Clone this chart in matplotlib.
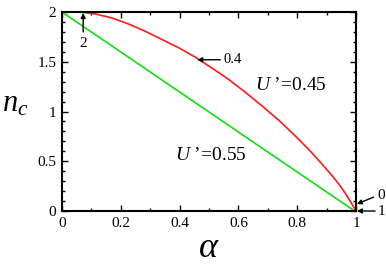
import matplotlib
matplotlib.use("Agg")
import matplotlib.pyplot as plt
from matplotlib.ticker import MultipleLocator

plt.rcParams['font.family'] = ['Liberation Serif', 'DejaVu Serif']
plt.rcParams['mathtext.fontset'] = 'custom'
plt.rcParams['mathtext.rm'] = 'Liberation Serif'
plt.rcParams['mathtext.it'] = 'Liberation Serif:italic'

# U'=0.45 boundary (red)
alpha_red = [0.0, 0.0625, 0.114, 0.17, 0.227, 0.284, 0.341, 0.40, 0.4545, 0.51, 0.568,
             0.625, 0.682, 0.74, 0.795, 0.845, 0.886, 0.92, 0.943, 0.963, 0.977, 0.988,
             0.994, 0.998]
nc_red = [2.0, 2.0, 1.98, 1.94, 1.879, 1.805, 1.722, 1.636, 1.544, 1.437, 1.320,
          1.19, 1.052, 0.905, 0.750, 0.60, 0.466, 0.35, 0.265, 0.18, 0.114, 0.06,
          0.030, 0.0]
# small red piece along the bottom
alpha_red_b = [0.983, 1.0]
nc_red_b = [0.0, 0.0]
# U'=0.55 boundary (green)
alpha_green = [0.0, 0.995]
nc_green = [2.0, 0.0]

fig = plt.figure(figsize=(3.86, 2.73), dpi=100)
ax = fig.add_axes([0.1606, 0.2271, 0.7617, 0.7289])

ax.plot(alpha_red, nc_red, color='#ff1a1a', lw=1.2, clip_on=False)
ax.plot(alpha_red_b, nc_red_b, color='#ff1a1a', lw=1.2, clip_on=False)
ax.plot(alpha_green, nc_green, color='#11dd11', lw=1.2, clip_on=False)

ax.set_xlim(0, 1)
ax.set_ylim(0, 2)
ax.xaxis.set_minor_locator(MultipleLocator(0.1))
ax.yaxis.set_minor_locator(MultipleLocator(0.1))
ax.set_xticks([0, 0.2, 0.4, 0.6, 0.8, 1.0])
ax.set_xticklabels(['0', '0.2', '0.4', '0.6', '0.8', '1'])
ax.set_yticks([0, 0.5, 1.0, 1.5, 2.0])
ax.set_yticklabels(['0', '0.5', '1', '1.5', '2'])
ax.tick_params(which='both', direction='in', top=True, right=True, labelsize=11, pad=4)
ax.tick_params(which='major', length=4, width=1)
ax.tick_params(which='minor', length=2, width=1)
for s in ax.spines.values():
    s.set_linewidth(1.5)

ax.set_xlabel(r'$\alpha$', fontsize=26, labelpad=2)
fig.text(15 / 386, 1 - 104 / 273, r'$n_c$', fontsize=22, ha='center', va='center')

ax.text(0.777, 1.263, r"$U$ ’=0.45", fontsize=14, ha='center', va='center')
ax.text(0.505, 0.553, r"$U$ ’=0.55", fontsize=14, ha='center', va='center')

arrow = dict(arrowstyle='-|>', color='black', lw=1, mutation_scale=7, shrinkA=0, shrinkB=0)
ax.annotate('0.4', xy=(0.46, 1.52), xytext=(0.548, 1.52), fontsize=10.5,
            ha='left', va='center', arrowprops=arrow)
ax.annotate('', xy=(0.072, 1.99), xytext=(0.072, 1.8), arrowprops=arrow)
ax.text(0.072, 1.68, '2', fontsize=11, ha='center', va='center')
ax.annotate('', xy=(1.003, 0.07), xytext=(1.06, 0.14), arrowprops=arrow, annotation_clip=False)
ax.text(1.085, 0.16, '0', fontsize=11, ha='center', va='center', clip_on=False)
ax.annotate('', xy=(1.003, 0.0), xytext=(1.065, 0.0), arrowprops=arrow, annotation_clip=False)
ax.text(1.085, 0.0, '1', fontsize=11, ha='center', va='center', clip_on=False)

fig.savefig('out.png', dpi=100)
